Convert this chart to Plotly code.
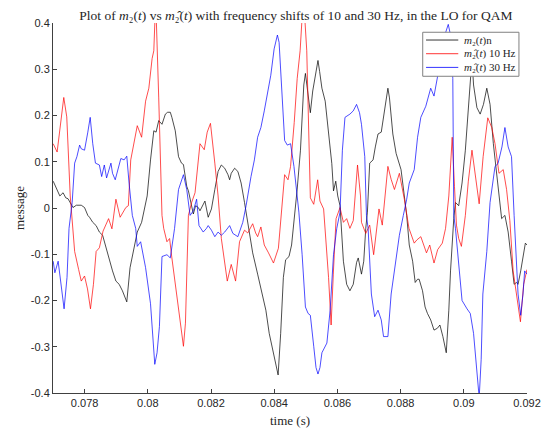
import plotly.graph_objects as go

# ---- data (time in seconds, message amplitude) ----
t_black = [0.077006, 0.077113, 0.077216, 0.077319, 0.077404, 0.077476, 0.077551, 0.077632, 0.077739, 0.077895,
           0.077998, 0.078102, 0.078155, 0.078258, 0.078365, 0.078468, 0.078571, 0.078678, 0.078781, 0.078884,
           0.078991, 0.079094, 0.079197, 0.079266, 0.079335, 0.079438, 0.079563, 0.079667, 0.079804, 0.079930,
           0.079980, 0.080086, 0.080190, 0.080262, 0.080346, 0.080449, 0.080556, 0.080628, 0.080712, 0.080762,
           0.080869, 0.080972, 0.081066, 0.081128, 0.081232, 0.081285, 0.081388, 0.081441, 0.081513, 0.081598,
           0.081651, 0.081754, 0.081808, 0.081911, 0.082014, 0.082121, 0.082224, 0.082327, 0.082434, 0.082537,
           0.082590, 0.082640, 0.082747, 0.082850, 0.082953, 0.083060, 0.083163, 0.083266, 0.083319, 0.083476,
           0.083632, 0.083736, 0.083842, 0.083945, 0.084039, 0.084124, 0.084205, 0.084290, 0.084362, 0.084468,
           0.084550, 0.084656, 0.084728, 0.084831, 0.084937, 0.084988, 0.085072, 0.085144, 0.085219, 0.085301,
           0.085385, 0.085438, 0.085510, 0.085614, 0.085720, 0.085823, 0.085877, 0.085948, 0.086011, 0.086083,
           0.086190, 0.086293, 0.086396, 0.086502, 0.086606, 0.086659, 0.086762, 0.086834, 0.086897, 0.086950,
           0.087022, 0.087129, 0.087200, 0.087285, 0.087388, 0.087441, 0.087545, 0.087598, 0.087648, 0.087754,
           0.087858, 0.087961, 0.088014, 0.088118, 0.088193, 0.088274, 0.088381, 0.088462, 0.088537, 0.088587,
           0.088694, 0.088775, 0.088850, 0.088953, 0.089057, 0.089163, 0.089244, 0.089338, 0.089445, 0.089526,
           0.089580, 0.089683, 0.089736, 0.089839, 0.089945, 0.090049, 0.090152, 0.090259, 0.090309, 0.090415,
           0.090518, 0.090622, 0.090728, 0.090831, 0.090935, 0.091041, 0.091144, 0.091197, 0.091301, 0.091404,
           0.091510, 0.091592, 0.091667, 0.091717, 0.091801, 0.091873, 0.091948, 0.091999]
m_black = [0.058, 0.040, 0.026, 0.033, 0.022, 0.020, 0.012, 0.001, 0.006, 0.006,
           0.001, -0.016, -0.020, -0.031, -0.038, -0.052, -0.059, -0.087, -0.115, -0.136,
           -0.158, -0.165, -0.179, -0.192, -0.203, -0.129, -0.087, -0.052, -0.031, 0.012,
           0.026, 0.104, 0.167, 0.164, 0.189, 0.181, 0.203, 0.207, 0.207, 0.196,
           0.167, 0.111, 0.097, 0.094, 0.047, 0.037, 0.005, -0.013, 0.005, 0.001,
           -0.006, 0.008, 0.015, -0.020, -0.002, 0.040, 0.079, 0.093, 0.086, 0.072,
           0.061, 0.075, 0.086, 0.079, 0.054, 0.012, -0.031, -0.066, -0.097, -0.143,
           -0.186, -0.221, -0.271, -0.306, -0.340, -0.361, -0.271, -0.150, -0.112, -0.105,
           -0.080, -0.009, 0.041, 0.125, 0.266, 0.291, 0.242, 0.206, 0.253, 0.287,
           0.319, 0.295, 0.259, 0.231, 0.168, 0.096, 0.037, 0.058, 0.026, 0.005,
           -0.115, -0.165, -0.179, -0.165, -0.118, -0.108, -0.143, -0.115, -0.044, -0.009,
           0.097, 0.104, 0.132, 0.160, 0.164, 0.189, 0.231, 0.259, 0.238, 0.160,
           0.118, 0.097, 0.083, 0.026, -0.016, -0.080, -0.115, -0.161, -0.154, -0.154,
           -0.179, -0.214, -0.228, -0.242, -0.264, -0.260, -0.253, -0.278, -0.313, -0.221,
           -0.136, -0.023, 0.012, 0.005, 0.054, 0.125, 0.231, 0.323, 0.266, 0.217,
           0.203, 0.224, 0.259, 0.224, 0.139, 0.068, -0.002, -0.023, -0.016, -0.052,
           -0.115, -0.165, -0.161, -0.165, -0.136, -0.101, -0.076, -0.080]

t_red = [0.077006, 0.077131, 0.077341, 0.077435, 0.077545, 0.077685, 0.077811, 0.077895, 0.077998, 0.078092,
         0.078186, 0.078280, 0.078365, 0.078468, 0.078584, 0.078759, 0.078865, 0.078991, 0.079125, 0.079304,
         0.079385, 0.079460, 0.079667, 0.079804, 0.079930, 0.080033, 0.080136, 0.080190, 0.080250, 0.080310,
         0.080346, 0.080449, 0.080503, 0.080606, 0.080690, 0.080762, 0.080847, 0.080940, 0.081025, 0.081128,
         0.081191, 0.081285, 0.081388, 0.081495, 0.081651, 0.081723, 0.081786, 0.081880, 0.081983, 0.082121,
         0.082224, 0.082327, 0.082412, 0.082515, 0.082640, 0.082778, 0.082903, 0.083060, 0.083163, 0.083319,
         0.083413, 0.083476, 0.083579, 0.083686, 0.083820, 0.083977, 0.084133, 0.084258, 0.084330, 0.084437,
         0.084518, 0.084634, 0.084728, 0.084820, 0.084925, 0.085030, 0.085094, 0.085144, 0.085251, 0.085376,
         0.085448, 0.085564, 0.085720, 0.085801, 0.085870, 0.085958, 0.086083, 0.086190, 0.086293, 0.086396,
         0.086502, 0.086637, 0.086731, 0.086762, 0.086897, 0.087022, 0.087147, 0.087316, 0.087420, 0.087598,
         0.087701, 0.087805, 0.087961, 0.088118, 0.088265, 0.088431, 0.088515, 0.088640, 0.088819, 0.088922,
         0.089057, 0.089173, 0.089320, 0.089423, 0.089526, 0.089633, 0.089705, 0.089767, 0.089839, 0.089924,
         0.090049, 0.090143, 0.090259, 0.090361, 0.090486, 0.090612, 0.090759, 0.090885, 0.090988, 0.091113,
         0.091248, 0.091354, 0.091457, 0.091561, 0.091677, 0.091792, 0.091895, 0.091999]
m_red = [0.139, 0.121, 0.239, 0.197, 0.026, -0.094, -0.133, -0.158, -0.147, -0.175,
         -0.218, -0.165, -0.094, -0.086, -0.050, -0.023, -0.045, 0.019, -0.020, 0.001,
         0.005, 0.104, 0.178, 0.153, 0.231, 0.259, 0.323, 0.340, 0.450, 0.340,
         0.238, -0.016, -0.044, -0.073, -0.066, -0.108, -0.154, -0.207, -0.256, -0.299,
         -0.249, -0.016, 0.012, 0.033, 0.139, 0.132, 0.126, 0.164, 0.183, 0.097,
         0.026, -0.066, -0.112, -0.158, -0.122, -0.158, -0.073, -0.048, -0.054, -0.034,
         -0.054, -0.062, -0.041, -0.080, -0.097, -0.119, -0.087, 0.026, 0.072, 0.061,
         0.090, 0.185, 0.280, 0.340, 0.460, 0.340, 0.125, 0.022, 0.008, 0.061,
         0.015, -0.002, -0.150, -0.253, -0.143, -0.023, 0.001, -0.031, -0.023, -0.044,
         -0.027, 0.093, 0.026, -0.031, -0.055, -0.037, -0.101, -0.002, -0.037, 0.090,
         0.062, 0.040, 0.075, 0.019, -0.044, -0.076, -0.069, -0.062, -0.097, -0.080,
         -0.119, -0.090, -0.076, -0.044, 0.026, 0.153, 0.047, -0.037, -0.066, -0.083,
         -0.016, 0.058, 0.125, 0.068, 0.009, 0.111, 0.195, 0.174, 0.139, 0.075,
         0.083, 0.040, -0.027, -0.136, -0.196, -0.246, -0.165, -0.133]

t_blue = [0.077006, 0.077059, 0.077163, 0.077269, 0.077351, 0.077444, 0.077507, 0.077607, 0.077685, 0.077757,
          0.077842, 0.077895, 0.077998, 0.078102, 0.078177, 0.078258, 0.078343, 0.078468, 0.078540, 0.078624,
          0.078696, 0.078834, 0.078884, 0.078969, 0.079147, 0.079250, 0.079335, 0.079407, 0.079510, 0.079617,
          0.079667, 0.079773, 0.079930, 0.080086, 0.080221, 0.080293, 0.080368, 0.080449, 0.080606, 0.080712,
          0.080847, 0.080972, 0.081128, 0.081232, 0.081338, 0.081441, 0.081545, 0.081620, 0.081754, 0.081858,
          0.081911, 0.082014, 0.082121, 0.082224, 0.082327, 0.082434, 0.082590, 0.082693, 0.082850, 0.083006,
          0.083110, 0.083266, 0.083373, 0.083476, 0.083579, 0.083686, 0.083789, 0.083892, 0.083998, 0.084102,
          0.084155, 0.084258, 0.084330, 0.084415, 0.084518, 0.084625, 0.084728, 0.084781, 0.084884, 0.084988,
          0.085072, 0.085144, 0.085251, 0.085323, 0.085385, 0.085448, 0.085510, 0.085667, 0.085770, 0.085877,
          0.085980, 0.086083, 0.086158, 0.086240, 0.086396, 0.086502, 0.086606, 0.086700, 0.086762, 0.086866,
          0.086919, 0.086972, 0.087075, 0.087179, 0.087285, 0.087388, 0.087460, 0.087598, 0.087701, 0.087836,
          0.087961, 0.088086, 0.088193, 0.088274, 0.088431, 0.088537, 0.088640, 0.088797, 0.088953, 0.089057,
          0.089163, 0.089320, 0.089423, 0.089508, 0.089580, 0.089652, 0.089683, 0.089736, 0.089839, 0.089945,
          0.090102, 0.090205, 0.090309, 0.090415, 0.090487, 0.090550, 0.090603, 0.090728, 0.090831, 0.090988,
          0.091082, 0.091207, 0.091301, 0.091404, 0.091510, 0.091592, 0.091614, 0.091717, 0.091801, 0.091873,
          0.091926, 0.091999]
m_blue = [-0.115, -0.140, -0.115, -0.179, -0.218, -0.150, -0.044, 0.012, 0.097, 0.111,
          0.136, 0.128, 0.125, 0.164, 0.196, 0.139, 0.097, 0.093, 0.068, 0.093,
          0.065, 0.097, 0.075, 0.061, 0.107, 0.104, 0.112, 0.054, -0.016, -0.044,
          -0.083, -0.073, -0.129, -0.207, -0.338, -0.313, -0.256, -0.105, -0.101, -0.108,
          -0.044, 0.040, 0.072, 0.040, -0.016, -0.006, 0.019, -0.038, -0.052, -0.044,
          -0.038, -0.048, -0.062, -0.052, -0.059, -0.052, -0.038, -0.055, -0.062, -0.031,
          0.005, 0.068, 0.104, 0.153, 0.174, 0.210, 0.252, 0.287, 0.344, 0.374,
          0.358, 0.217, 0.146, 0.136, 0.139, 0.090, 0.033, -0.009, -0.101, -0.214,
          -0.228, -0.232, -0.299, -0.345, -0.359, -0.345, -0.313, -0.292, -0.221, -0.101,
          -0.044, -0.009, 0.125, 0.196, 0.203, 0.210, 0.224, 0.206, 0.181, 0.111,
          -0.016, -0.044, -0.186, -0.235, -0.221, -0.242, -0.278, -0.278, -0.186, -0.115,
          -0.059, -0.016, 0.019, 0.054, 0.083, 0.153, 0.196, 0.220, 0.259, 0.242,
          0.280, 0.337, 0.379, 0.397, 0.374, 0.280, -0.016, -0.044, -0.115, -0.200,
          -0.218, -0.228, -0.271, -0.356, -0.410, -0.327, -0.186, -0.094, 0.012, 0.090,
          0.096, 0.132, 0.174, 0.132, 0.111, -0.016, -0.044, -0.186, -0.232, -0.186,
          -0.136, -0.143]

x_ticks = [0.078, 0.080, 0.082, 0.084, 0.086, 0.088, 0.090, 0.092]
x_tick_labels = ["0.078", "0.08", "0.082", "0.084", "0.086", "0.088", "0.09", "0.092"]
y_ticks = [-0.4, -0.3, -0.2, -0.1, 0, 0.1, 0.2, 0.3, 0.4]
y_tick_labels = ["-0.4", "-0.3", "-0.2", "-0.1", "0", "0.1", "0.2", "0.3", "0.4"]

HAT = "\u0302"
m2 = "<i>m</i>\u2082"
m2hat = "<i>m</i>\u2082" + HAT
names = [m2 + "(<i>t</i>)n",
         m2hat + "(<i>t</i>) 10 Hz",
         m2hat + "(<i>t</i>) 30 Hz"]
colors = ["#000000", "#ff0000", "#0000ff"]
title_text = ("Plot of " + m2 + "(<i>t</i>) vs " + m2hat +
              "(<i>t</i>) with frequency shifts of 10 and 30 Hz, in the LO for QAM")

serif = "Liberation Serif, DejaVu Serif, serif"
sans = "Liberation Sans, Arial, sans-serif"

fig = go.Figure()
for tx, my, nm, col in [(t_black, m_black, names[0], colors[0]),
                        (t_red, m_red, names[1], colors[1]),
                        (t_blue, m_blue, names[2], colors[2])]:
    fig.add_trace(go.Scatter(x=tx, y=my, mode="lines", name=nm, showlegend=False,
                             line=dict(color=col, width=0.7)))

# Compact MATLAB-style legend box (paper coordinates)
leg_x0, leg_x1, leg_y0, leg_y1 = 0.780, 0.983, 0.856, 0.975
row_y = [0.954, 0.917, 0.880]
shapes = [dict(type="rect", xref="paper", yref="paper", x0=leg_x0, x1=leg_x1, y0=leg_y0, y1=leg_y1,
               fillcolor="white", line=dict(color="#808080", width=1), layer="above")]
annotations = []
for nm, col, ry in zip(names, colors, row_y):
    shapes.append(dict(type="line", xref="paper", yref="paper", x0=0.787, x1=0.855, y0=ry, y1=ry,
                       line=dict(color=col, width=0.8), layer="above"))
    annotations.append(dict(xref="paper", yref="paper", x=0.862, y=ry, xanchor="left", yanchor="middle",
                            text=nm, showarrow=False,
                            font=dict(family=serif, size=11, color="#262626")))

axis_common = dict(showline=True, linecolor="#404040", linewidth=1, ticks="inside",
                   ticklen=4, tickcolor="#404040", showgrid=False, zeroline=False,
                   tickfont=dict(family=sans, size=11, color="#262626"), mirror=False)

fig.update_layout(
    width=553, height=437,
    margin=dict(l=53, r=21, t=23, b=36),
    paper_bgcolor="white", plot_bgcolor="white",
    title=dict(text=title_text,
               x=0.535, xanchor="center", y=0.966, yanchor="middle",
               font=dict(family=serif, size=13.5, color="#262626")),
    xaxis=dict(range=[0.077, 0.092], tickvals=x_ticks, ticktext=x_tick_labels,
               title=dict(text="time (s)", font=dict(family=serif, size=13, color="#262626"), standoff=7),
               **axis_common),
    yaxis=dict(range=[-0.4, 0.4], tickvals=y_ticks, ticktext=y_tick_labels,
               title=dict(text="message", font=dict(family=serif, size=13, color="#262626"), standoff=3),
               **axis_common),
    shapes=shapes,
    annotations=annotations,
    showlegend=False,
)

fig.write_html("out.html")
